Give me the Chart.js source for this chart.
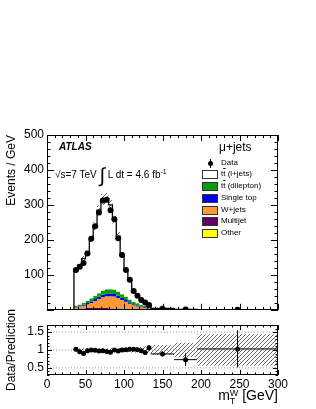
<!DOCTYPE html>
<html>
<head>
<meta charset="utf-8">
<script src="https://cdn.jsdelivr.net/npm/chart.js@4.4.1/dist/chart.umd.min.js"></script>
<style>
  body { margin: 0; background: #fff; }
  #wrap { position: relative; width: 316px; height: 409px; font-family: 'Liberation Sans', Arial, sans-serif; color: #000; }
  canvas { position: absolute; left: 0; }
  .t { position: absolute; white-space: nowrap; }
  .box { position: absolute; width: 14px; height: 7px; border: 1px solid #333; }
  .leg { position: absolute; font-size: 8px; line-height: 10px; white-space: nowrap; }
  .ob { text-decoration: overline; }
</style>
</head>
<body>
<div id="wrap">
  <canvas id="main" width="316" height="320" style="top:0"></canvas>
  <canvas id="ratio" width="316" height="109" style="top:300px"></canvas>

  <div class="t" style="left:59px;top:141px;font-size:10px;font-weight:bold;font-style:italic">ATLAS</div>
  <div class="t" style="left:55px;top:163px;font-size:10px;line-height:18px">&radic;s=7 TeV <span style="font-size:20px;vertical-align:-4px">&int;</span> L dt = 4.6 fb<sup style="font-size:7px">-1</sup></div>
  <div class="t" style="left:219px;top:140px;font-size:12px">&mu;+jets</div>

  <div class="leg" style="left:221px;top:158px">Data</div>
  <div class="leg" style="left:221px;top:169px">t<span class="ob">t</span> (l+jets)</div>
  <div class="leg" style="left:221px;top:181px">t<span class="ob">t</span> (dilepton)</div>
  <div class="leg" style="left:221px;top:193px">Single top</div>
  <div class="leg" style="left:221px;top:205px">W+jets</div>
  <div class="leg" style="left:221px;top:216px">Multijet</div>
  <div class="leg" style="left:221px;top:228px">Other</div>
  <div style="position:absolute;left:208px;top:161px;width:5px;height:5px;border-radius:50%;background:#000"></div>
  <div style="position:absolute;left:210px;top:159px;width:1px;height:9px;background:#000"></div>
  <div class="box" style="left:202px;top:170px;background:#fff"></div>
  <div class="box" style="left:202px;top:182px;background:#0a9a0a"></div>
  <div class="box" style="left:202px;top:194px;background:#0000ff"></div>
  <div class="box" style="left:202px;top:206px;background:#ff9933"></div>
  <div class="box" style="left:202px;top:217px;background:#660066"></div>
  <div class="box" style="left:202px;top:229px;background:#ffff00"></div>

  <div class="t" style="right:38px;top:386px;font-size:14px;line-height:18px">m<span style="display:inline-block;font-size:9px;line-height:8px;vertical-align:-4px;text-align:left">W<br>T</span> [GeV]</div>
</div>

<script>
// bin edges in GeV (5 GeV bins, then wider ones in the tail)
const edges = [35,40,45,50,55,60,65,70,75,80,85,90,95,100,105,110,115,120,125,130,135,165,195,300];

// events / GeV
const dataVals  = [114,123,134,161,203,239,278,313,315,285,259,205,157,114,86,54,40,28,21,14,3.2,1.0,0.4];
const dataErr   = [5,5,5,6,6,7,7,8,8,8,7,6,6,5,4,3,3,2,2,2,0.3,0.2,0.06];
const ttLjets   = [99,112,127,137,170,200,238,261,259,241,201,158,112,75,54,30,22,15,11,4.5,1.4,0.55,0.14];
const ttDilep   = [4,4,5,6,8,9,10,12,13,13,13,12,11,10,8,7,6,5,4,3,0.7,0.25,0.08];
const singleTop = [2,2,3,4,5,6,6,7,7,7,7,6,6,5,4,3,3,2,2,1.5,0.4,0.15,0.05];
const wJets     = [4,6,8,11,15,20,26,31,34,35,34,30,25,20,15,11,8,6,4,3,1.0,0.4,0.12];
const multijet  = [2,3,3,4,4,4,4,4,4,3,3,3,2,2,2,1.5,1,1,1,0.8,0.2,0.05,0.01];
const other     = [0.5,0.5,0.5,0.8,0.8,1,1,1,1,1,1,1,0.8,0.8,0.6,0.5,0.5,0.4,0.3,0.3,0.1,0.05,0.02];

// data / prediction
const ratioVals = [1.02,0.95,0.9,0.98,1.0,0.99,0.97,0.98,0.96,0.94,1.0,0.97,1.0,1.01,1.02,1.02,1.01,0.98,0.93,1.06,0.89,0.73,1.03];
const ratioErr  = [0.03,0.03,0.03,0.03,0.03,0.03,0.03,0.03,0.03,0.03,0.03,0.03,0.03,0.03,0.04,0.05,0.05,0.06,0.07,0.08,0.07,0.18,0.52];
// relative uncertainty of the prediction (hatched band)
const systRel   = [0.05,0.05,0.05,0.05,0.05,0.05,0.05,0.05,0.05,0.05,0.05,0.06,0.06,0.06,0.07,0.07,0.08,0.09,0.1,0.1,0.14,0.2,0.44];

const mainTicksY = [100,200,300,400,500];
const ratioTicksY = [0.5,1,1.5];
const ratioTicksX = [0,50,100,150,200,250,300];

Chart.defaults.font.family = "'Liberation Sans', Arial, sans-serif";
Chart.defaults.color = '#000';

// stepped histogram points from per-bin values
function steps(vals, zeroEnds) {
  let pts = [];
  if (zeroEnds) pts.push({x: edges[0], y: 0});
  vals.forEach((v, i) => pts.push({x: edges[i], y: v}));
  pts.push({x: edges[edges.length - 1], y: vals[vals.length - 1]});
  if (zeroEnds) pts.push({x: edges[edges.length - 1], y: 0});
  return pts;
}

function errorBars(vals, errs) {
  let pts = [];
  vals.forEach((v, i) => {
    let c = (edges[i] + edges[i + 1]) / 2;
    pts.push({x: c, y: v - errs[i]}, {x: c, y: v + errs[i]}, {x: c, y: null});
    pts.push({x: edges[i], y: v}, {x: edges[i + 1], y: v}, {x: edges[i + 1], y: null});
  });
  return pts;
}

function centers(vals) {
  return vals.map((v, i) => ({x: (edges[i] + edges[i + 1]) / 2, y: v}));
}

function hatch() {
  let c = document.createElement('canvas');
  c.width = 4; c.height = 4;
  let g = c.getContext('2d');
  g.strokeStyle = '#444';
  g.lineWidth = 0.8;
  g.beginPath();
  g.moveTo(0, 4); g.lineTo(4, 0);
  g.moveTo(-1, 1); g.lineTo(1, -1);
  g.moveTo(3, 5); g.lineTo(5, 3);
  g.stroke();
  return g.createPattern(c, 'repeat');
}

// frame with inward ROOT style ticks on all four sides
const framePlugin = {
  id: 'frame',
  afterDraw(chart, args, o) {
    const ctx = chart.ctx, a = chart.chartArea, sx = chart.scales.x, sy = chart.scales.y;
    ctx.save();
    ctx.strokeStyle = '#000';
    ctx.lineWidth = 1;
    ctx.strokeRect(Math.round(a.left) + 0.5, Math.round(a.top) + 0.5, Math.round(a.right - a.left) - 1, Math.round(a.bottom - a.top) - 1);
    ctx.beginPath();
    for (let k = 0; o.xMin + k * o.xMinor <= o.xMax + 1e-9; k++) {
      let v = o.xMin + k * o.xMinor;
      let len = Math.abs(v / o.xMajor - Math.round(v / o.xMajor)) < 1e-6 ? o.xLen : o.xLen / 2;
      let px = Math.round(sx.getPixelForValue(v)) + 0.5;
      ctx.moveTo(px, a.bottom); ctx.lineTo(px, a.bottom - len);
      ctx.moveTo(px, a.top); ctx.lineTo(px, a.top + len);
    }
    for (let k = 0; o.yMin + k * o.yMinor <= o.yMax + 1e-9; k++) {
      let v = o.yMin + k * o.yMinor;
      let len = Math.abs(v / o.yMajor - Math.round(v / o.yMajor)) < 1e-6 ? o.yLen : o.yLen / 2;
      let py = Math.round(sy.getPixelForValue(v)) + 0.5;
      ctx.moveTo(a.left, py); ctx.lineTo(a.left + len, py);
      ctx.moveTo(a.right, py); ctx.lineTo(a.right - len, py);
    }
    ctx.stroke();
    ctx.restore();
  }
};

// cumulative stack levels
let lvl = [];
let run = edges.slice(1).map(() => 0);
[other, multijet, wJets, singleTop, ttDilep, ttLjets].forEach(arr => {
  run = run.map((s, i) => s + arr[i]);
  lvl.push(run.slice());
});
const total = lvl[5];
const fills = ['#ffff00', '#660066', '#ff9933', '#0000ff', '#0a9a0a', '#ffffff'];

let mainSets = lvl.map((l, i) => ({
  data: steps(l, true),
  stepped: 'before',
  backgroundColor: fills[i],
  borderColor: i === 5 ? '#000' : 'rgba(0,0,0,0)',
  borderWidth: i === 5 ? 1.3 : 0,
  pointRadius: 0,
  fill: i === 0 ? 'origin' : i - 1,
  order: 20 - i
}));
mainSets.push({
  data: steps(total.map((t, i) => t * (1 - systRel[i])), false),
  stepped: 'before', borderWidth: 0, pointRadius: 0, fill: false, order: 10
});
mainSets.push({
  data: steps(total.map((t, i) => t * (1 + systRel[i])), false),
  stepped: 'before', borderWidth: 0, pointRadius: 0, fill: 6,
  backgroundColor: hatch(), order: 9
});
mainSets.push({
  data: errorBars(dataVals, dataErr),
  borderColor: '#000', borderWidth: 1, pointRadius: 0, spanGaps: false, fill: false, order: 2
});
mainSets.push({
  data: centers(dataVals),
  showLine: false, pointRadius: 3, pointBackgroundColor: '#000', pointBorderWidth: 0, order: 1
});

new Chart(document.getElementById('main'), {
  type: 'line',
  data: { datasets: mainSets },
  options: {
    responsive: false,
    animation: false,
    layout: { padding: { top: 135, right: 38, bottom: 4, left: 0 } },
    plugins: {
      legend: { display: false },
      tooltip: { enabled: false },
      frame: { xMin: 0, xMax: 300, xMajor: 50, xMinor: 10, xLen: 6, yMin: 0, yMax: 500, yMajor: 100, yMinor: 20, yLen: 7 }
    },
    scales: {
      x: { type: 'linear', min: 0, max: 300, display: false },
      y: {
        type: 'linear', min: 0, max: 500,
        grid: { display: false, drawTicks: false },
        border: { display: false },
        afterBuildTicks: s => { s.ticks = mainTicksY.map(v => ({value: v})); },
        afterFit: s => { s.width = 47; },
        ticks: { font: { size: 12 }, padding: 3, callback: v => String(v) },
        title: { display: true, text: 'Events / GeV', align: 'end', font: { size: 12 }, padding: { top: 4, bottom: 0 } }
      }
    }
  },
  plugins: [framePlugin]
});

let ratioSets = [];
ratioSets.push({
  data: [{x: 0, y: 0.5}, {x: 300, y: 0.5}, {x: 300, y: null}, {x: 0, y: 1}, {x: 300, y: 1}, {x: 300, y: null}, {x: 0, y: 1.5}, {x: 300, y: 1.5}],
  borderColor: '#999', borderWidth: 1, borderDash: [1, 2], pointRadius: 0, spanGaps: false, fill: false, order: 10
});
ratioSets.push({
  data: steps(systRel.map(r => 1 - r), false),
  stepped: 'before', borderWidth: 0, pointRadius: 0, fill: false, order: 9
});
ratioSets.push({
  data: steps(systRel.map(r => 1 + r), false),
  stepped: 'before', borderWidth: 0, pointRadius: 0, fill: 1,
  backgroundColor: hatch(), order: 8
});
ratioSets.push({
  data: errorBars(ratioVals, ratioErr),
  borderColor: '#000', borderWidth: 1, pointRadius: 0, spanGaps: false, fill: false, order: 2
});
ratioSets.push({
  data: centers(ratioVals),
  showLine: false, pointRadius: 2.5, pointBackgroundColor: '#000', pointBorderWidth: 0, order: 1
});

new Chart(document.getElementById('ratio'), {
  type: 'line',
  data: { datasets: ratioSets },
  options: {
    responsive: false,
    animation: false,
    layout: { padding: { top: 25, right: 38, bottom: 0, left: 0 } },
    plugins: {
      legend: { display: false },
      tooltip: { enabled: false },
      frame: { xMin: 0, xMax: 300, xMajor: 50, xMinor: 10, xLen: 5, yMin: 0.3, yMax: 1.7, yMajor: 0.5, yMinor: 0.1, yLen: 5 }
    },
    scales: {
      x: {
        type: 'linear', min: 0, max: 300,
        grid: { display: false, drawTicks: false },
        border: { display: false },
        afterBuildTicks: s => { s.ticks = ratioTicksX.map(v => ({value: v})); },
        afterFit: s => { s.height = 34; },
        ticks: { font: { size: 12 }, padding: 2, maxRotation: 0, autoSkip: false, callback: v => String(v) }
      },
      y: {
        type: 'linear', min: 0.3, max: 1.7,
        grid: { display: false, drawTicks: false },
        border: { display: false },
        afterBuildTicks: s => { s.ticks = ratioTicksY.map(v => ({value: v})); },
        afterFit: s => { s.width = 47; },
        ticks: { font: { size: 12 }, padding: 3, callback: v => String(v) },
        title: { display: true, text: 'Data/Prediction', align: 'center', font: { size: 12 }, padding: { top: 4, bottom: 0 } }
      }
    }
  },
  plugins: [framePlugin]
});
</script>
</body>
</html>
